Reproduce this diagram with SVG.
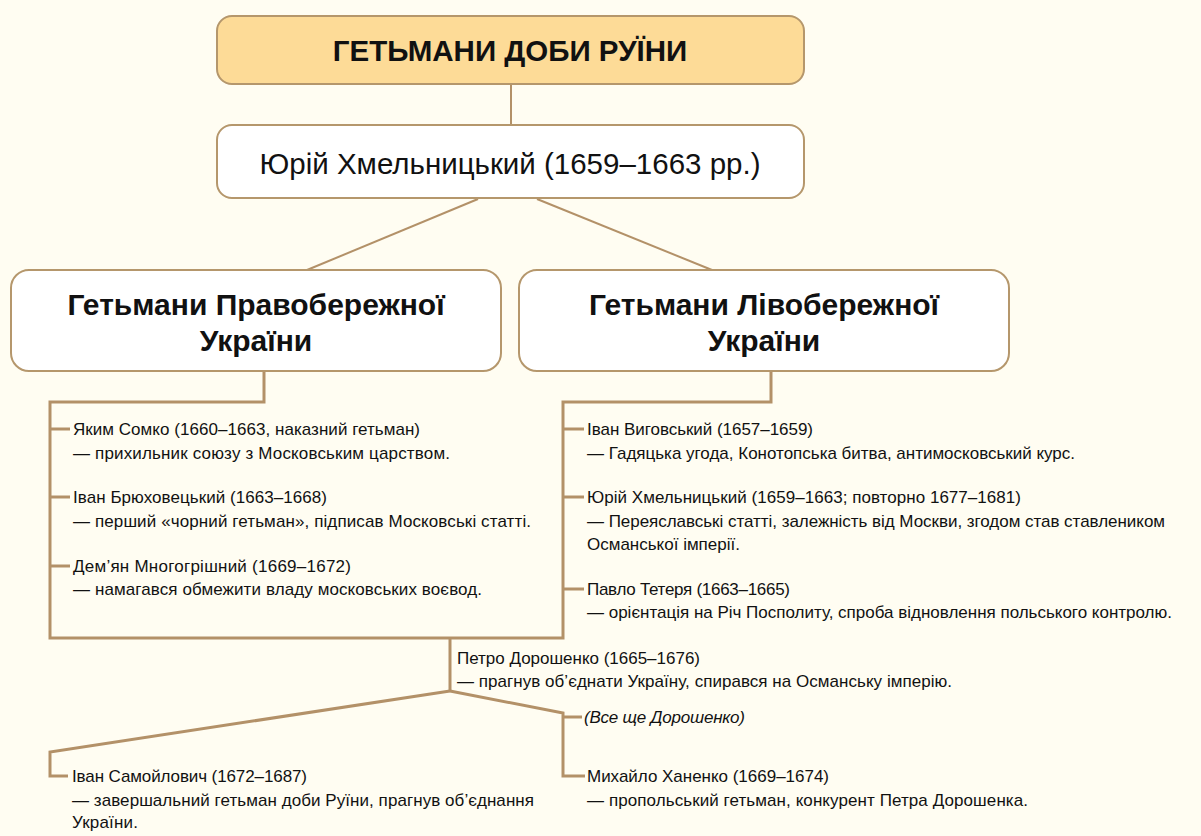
<svg xmlns="http://www.w3.org/2000/svg" width="1201" height="836" viewBox="0 0 1201 836">
<defs>
<style>
.bg{fill:#FFFDF2}
.box{fill:#FFFFFF;stroke:#B5976C;stroke-width:2}
.title{fill:#FDDB97;stroke:#B5976C;stroke-width:2}
.ln{fill:none;stroke:#B39168;stroke-width:2}
.br{fill:none;stroke:#B39168;stroke-width:3}
.h1{font-family:"Liberation Sans",Arial,sans-serif;font-weight:bold;font-size:29.5px;fill:#111;text-anchor:middle}
.h2{font-family:"Liberation Sans",Arial,sans-serif;font-size:29.5px;fill:#111;text-anchor:middle}
.h3{font-family:"Liberation Sans",Arial,sans-serif;font-weight:bold;font-size:30px;fill:#111;text-anchor:middle}
.t{font-family:"Liberation Sans",Arial,sans-serif;font-size:17px;fill:#111}
.it{font-style:italic}
</style>
</defs>
<rect class="bg" x="0" y="0" width="1201" height="836"/>
<g id="connectors">
<line class="ln" x1="511" y1="84" x2="511" y2="125"/>
<line class="ln" x1="478" y1="199" x2="307" y2="270"/>
<line class="ln" x1="537" y1="199" x2="712" y2="270"/>
<polyline class="br" points="264,371 264,402 50,402 50,638 563,638 563,402 771,402 771,371"/>
<line class="br" x1="50" y1="429" x2="70" y2="429"/>
<line class="br" x1="50" y1="497" x2="70" y2="497"/>
<line class="br" x1="50" y1="566" x2="70" y2="566"/>
<line class="br" x1="563" y1="429" x2="584" y2="429"/>
<line class="br" x1="563" y1="497" x2="584" y2="497"/>
<line class="br" x1="563" y1="589" x2="584" y2="589"/>
<line class="br" x1="450" y1="638" x2="450" y2="691"/>
<polyline class="br" points="450,691 50,752 50,776 68,776"/>
<polyline class="br" points="450,691 563,713 563,776 585,776"/>
<line class="br" x1="563" y1="717" x2="582" y2="717"/>
</g>
<g id="title">
<rect class="title" x="217" y="16" width="587" height="68" rx="15"/>
<text class="h1" x="510" y="61">ГЕТЬМАНИ ДОБИ РУЇНИ</text>
</g>
<g id="yuri">
<rect class="box" x="217" y="125" width="587" height="73" rx="15"/>
<text class="h2" x="510" y="174">Юрій Хмельницький (1659–1663 рр.)</text>
</g>
<g id="right-bank">
<rect class="box" x="11" y="270" width="490" height="101" rx="18"/>
<text class="h3" x="256" y="315">Гетьмани Правобережної</text>
<text class="h3" x="256" y="351">України</text>
</g>
<g id="left-bank">
<rect class="box" x="519" y="270" width="490" height="101" rx="18"/>
<text class="h3" x="764" y="315">Гетьмани Лівобережної</text>
<text class="h3" x="764" y="351">України</text>
</g>
<g id="somko">
<text class="t" x="73" y="435" textLength="347">Яким Сомко (1660–1663, наказний гетьман)</text>
<text class="t" x="73" y="459" textLength="377">— прихильник союзу з Московським царством.</text>
</g>
<g id="briukhovetskyi">
<text class="t" x="73" y="503" textLength="254">Іван Брюховецький (1663–1668)</text>
<text class="t" x="73" y="527" textLength="458">— перший «чорний гетьман», підписав Московські статті.</text>
</g>
<g id="mnohohrishnyi">
<text class="t" x="73" y="572" textLength="278">Дем’ян Многогрішний (1669–1672)</text>
<text class="t" x="73" y="595" textLength="409">— намагався обмежити владу московських воєвод.</text>
</g>
<g id="vyhovskyi">
<text class="t" x="587" y="435" textLength="226">Іван Виговський (1657–1659)</text>
<text class="t" x="587" y="459" textLength="488">— Гадяцька угода, Конотопська битва, антимосковський курс.</text>
</g>
<g id="khmelnytskyi">
<text class="t" x="587" y="503" textLength="434">Юрій Хмельницький (1659–1663; повторно 1677–1681)</text>
<text class="t" x="587" y="527" textLength="578">— Переяславські статті, залежність від Москви, згодом став ставлеником</text>
<text class="t" x="587" y="550" textLength="153">Османської імперії.</text>
</g>
<g id="teteria">
<text class="t" x="587" y="595" textLength="203">Павло Тетеря (1663–1665)</text>
<text class="t" x="587" y="618" textLength="585">— орієнтація на Річ Посполиту, спроба відновлення польського контролю.</text>
</g>
<g id="doroshenko">
<text class="t" x="457" y="664" textLength="243">Петро Дорошенко (1665–1676)</text>
<text class="t" x="457" y="687" textLength="495">— прагнув об’єднати Україну, спирався на Османську імперію.</text>
</g>
<g id="doroshenko-2">
<text class="t it" x="584" y="723" textLength="161">(Все ще Дорошенко)</text>
</g>
<g id="samoilovych">
<text class="t" x="72" y="782" textLength="235">Іван Самойлович (1672–1687)</text>
<text class="t" x="72" y="806" textLength="462">— завершальний гетьман доби Руїни, прагнув об’єднання</text>
<text class="t" x="72" y="828" textLength="66">України.</text>
</g>
<g id="khanenko">
<text class="t" x="587" y="782" textLength="242">Михайло Ханенко (1669–1674)</text>
<text class="t" x="587" y="806" textLength="441">— пропольський гетьман, конкурент Петра Дорошенка.</text>
</g>
</svg>
